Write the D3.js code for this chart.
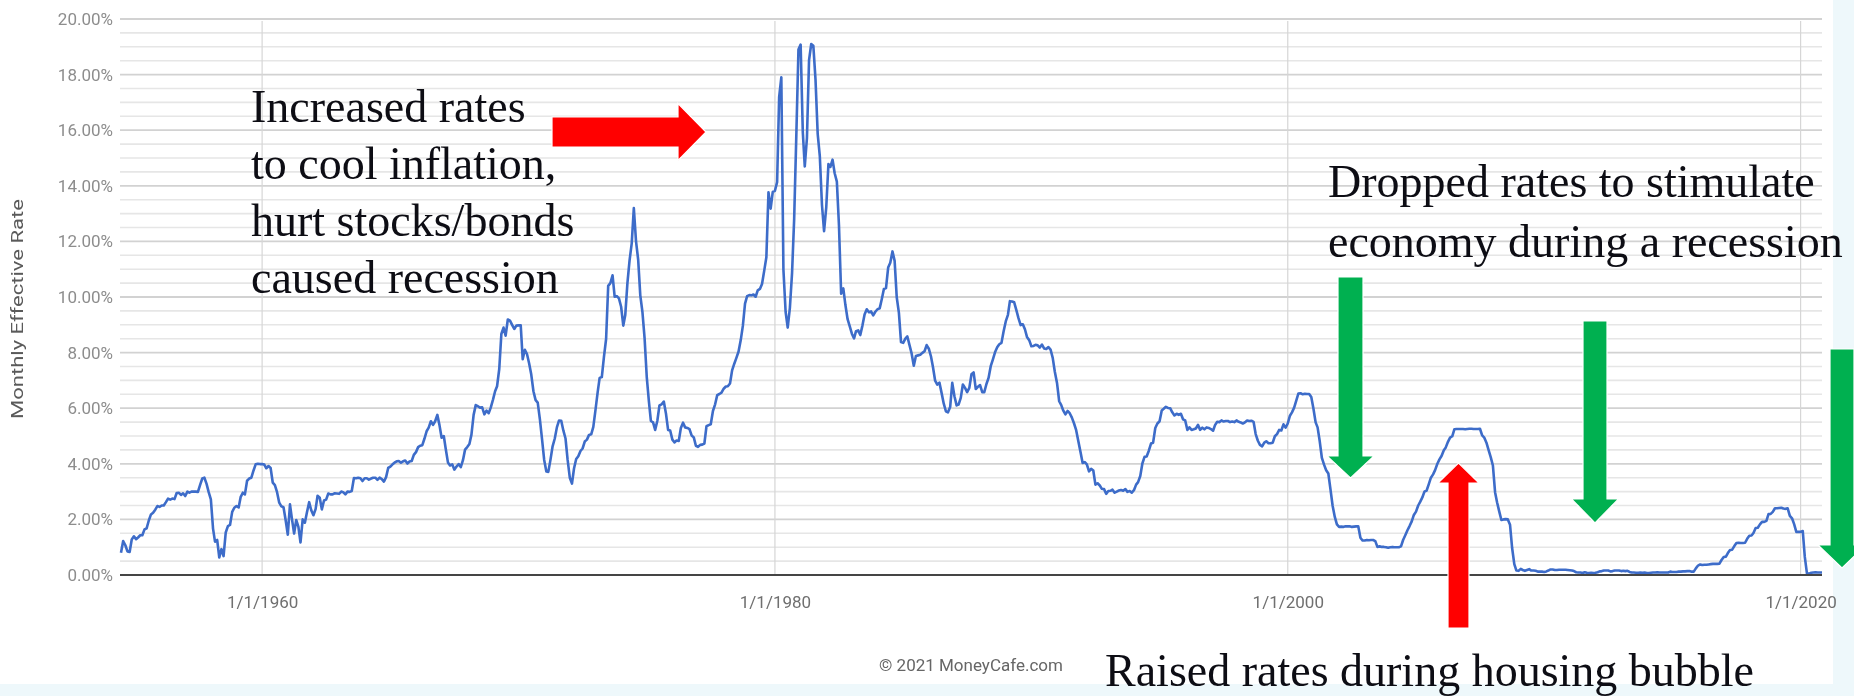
<!DOCTYPE html>
<html>
<head>
<meta charset="utf-8">
<script src="https://cdn.jsdelivr.net/npm/d3@7"></script>
<style>
  html, body { margin: 0; padding: 0; background: #ffffff; }
  svg { display: block; }
</style>
</head>
<body>
<svg id="chart" width="1854" height="696"></svg>
<script>
// Effective federal funds rate, monthly average in percent, July 1954 – November 2020
const seriesStart = new Date(1954, 6, 1);

const rates1950s = [
  0.80, 1.22, 1.07, 0.85, 0.83, 1.28,
  1.39, 1.29, 1.35, 1.43, 1.43, 1.64, 1.68, 1.96, 2.18, 2.24, 2.35, 2.48,
  2.45, 2.50, 2.50, 2.62, 2.75, 2.71, 2.75, 2.73, 2.95, 2.96, 2.88, 2.94,
  2.84, 3.00, 2.96, 3.00, 3.00, 3.00, 2.99, 3.24, 3.47, 3.50, 3.28, 2.98,
  2.72, 1.67, 1.20, 1.26, 0.63, 0.93, 0.68, 1.53, 1.76, 1.80, 2.27, 2.42,
  2.48, 2.43, 2.80, 2.96, 2.90, 3.39, 3.47, 3.50, 3.76, 3.98, 4.00, 3.99
];
const rates1960s = [
  3.99, 3.97, 3.84, 3.92, 3.85, 3.32, 3.23, 2.98, 2.60, 2.47, 2.44, 1.98,
  1.45, 2.54, 2.02, 1.49, 1.98, 1.73, 1.17, 2.00, 1.88, 2.26, 2.62, 2.33,
  2.15, 2.37, 2.85, 2.78, 2.36, 2.68, 2.71, 2.93, 2.90, 2.90, 2.94, 2.93,
  2.92, 3.00, 2.98, 2.90, 3.00, 2.99, 3.02, 3.49, 3.48, 3.50, 3.48, 3.38,
  3.48, 3.48, 3.43, 3.47, 3.50, 3.50, 3.42, 3.50, 3.45, 3.36, 3.52, 3.85,
  3.90, 3.98, 4.04, 4.09, 4.10, 4.04, 4.09, 4.12, 4.01, 4.08, 4.10, 4.32,
  4.42, 4.60, 4.65, 4.67, 4.90, 5.17, 5.30, 5.53, 5.40, 5.53, 5.76, 5.40,
  4.94, 5.00, 4.53, 4.05, 3.94, 3.98, 3.79, 3.90, 3.99, 3.88, 4.13, 4.51,
  4.60, 4.71, 5.05, 5.76, 6.11, 6.07, 6.02, 6.03, 5.78, 5.91, 5.82, 6.02,
  6.30, 6.61, 6.79, 7.41, 8.67, 8.90, 8.61, 9.19, 9.15, 9.00, 8.85, 8.97
];
const rates1970s = [
  8.98, 8.98, 7.76, 8.10, 7.95, 7.61, 7.21, 6.61, 6.29, 6.20, 5.60, 4.90,
  4.14, 3.72, 3.71, 4.15, 4.63, 4.91, 5.31, 5.56, 5.55, 5.20, 4.91, 4.14,
  3.50, 3.29, 3.83, 4.17, 4.27, 4.46, 4.55, 4.80, 4.87, 5.04, 5.06, 5.33,
  5.94, 6.58, 7.09, 7.12, 7.84, 8.49, 10.40, 10.50, 10.78, 10.01, 10.03, 9.95,
  9.65, 8.97, 9.35, 10.51, 11.31, 11.93, 13.20, 12.01, 11.34, 10.06, 9.45, 8.53,
  7.13, 6.24, 5.54, 5.49, 5.22, 5.55, 6.10, 6.14, 6.24, 5.82, 5.22, 5.20,
  4.87, 4.77, 4.84, 4.82, 5.29, 5.48, 5.31, 5.29, 5.25, 5.02, 4.95, 4.65,
  4.61, 4.68, 4.69, 4.73, 5.35, 5.39, 5.42, 5.90, 6.14, 6.47, 6.51, 6.56,
  6.70, 6.78, 6.79, 6.89, 7.36, 7.60, 7.81, 8.04, 8.45, 8.96, 9.76, 10.03,
  10.07, 10.06, 10.09, 10.01, 10.24, 10.29, 10.47, 10.94, 11.43, 13.77, 13.18, 13.78
];
const rates1980s = [
  13.82, 14.13, 17.19, 17.90, 10.98, 9.47, 8.90, 9.61, 10.87, 12.81, 15.85, 18.90,
  19.08, 15.93, 14.70, 15.72, 18.52, 19.10, 19.04, 17.82, 15.87, 15.08, 13.31, 12.37,
  13.22, 14.78, 14.68, 14.94, 14.45, 14.15, 12.59, 10.12, 10.31, 9.71, 9.20, 8.95,
  8.68, 8.51, 8.77, 8.80, 8.63, 8.98, 9.37, 9.56, 9.45, 9.48, 9.34, 9.47,
  9.56, 9.59, 9.91, 10.29, 10.32, 11.06, 11.23, 11.64, 11.30, 9.99, 9.43, 8.38,
  8.35, 8.50, 8.58, 8.27, 7.97, 7.53, 7.88, 7.90, 7.92, 7.99, 8.05, 8.27,
  8.14, 7.86, 7.48, 6.99, 6.85, 6.92, 6.56, 6.17, 5.89, 5.85, 6.04, 6.91,
  6.43, 6.10, 6.13, 6.37, 6.85, 6.73, 6.58, 6.73, 7.22, 7.29, 6.69, 6.77,
  6.83, 6.58, 6.58, 6.87, 7.09, 7.51, 7.75, 8.01, 8.19, 8.30, 8.35, 8.76,
  9.12, 9.36, 9.85, 9.84, 9.81, 9.53, 9.24, 8.99, 9.02, 8.84, 8.55, 8.45
];
const rates1990s = [
  8.23, 8.24, 8.28, 8.26, 8.18, 8.29, 8.15, 8.13, 8.20, 8.11, 7.81, 7.31,
  6.91, 6.25, 6.12, 5.91, 5.78, 5.90, 5.82, 5.66, 5.45, 5.21, 4.81, 4.43,
  4.03, 4.06, 3.98, 3.73, 3.82, 3.76, 3.25, 3.30, 3.22, 3.10, 3.09, 2.92,
  3.02, 3.03, 3.07, 2.96, 3.00, 3.04, 3.06, 3.03, 3.09, 2.99, 3.02, 2.96,
  3.05, 3.25, 3.34, 3.56, 4.01, 4.25, 4.26, 4.47, 4.73, 4.76, 5.29, 5.45,
  5.53, 5.92, 5.98, 6.05, 6.01, 6.00, 5.85, 5.74, 5.80, 5.76, 5.80, 5.60,
  5.56, 5.22, 5.31, 5.22, 5.24, 5.27, 5.40, 5.22, 5.30, 5.24, 5.31, 5.29,
  5.25, 5.19, 5.39, 5.51, 5.50, 5.56, 5.52, 5.54, 5.54, 5.50, 5.52, 5.50,
  5.56, 5.51, 5.49, 5.45, 5.49, 5.56, 5.54, 5.55, 5.51, 5.07, 4.83, 4.68,
  4.63, 4.76, 4.81, 4.74, 4.74, 4.76, 4.99, 5.07, 5.22, 5.20, 5.42, 5.30
];
const rates2000s = [
  5.45, 5.73, 5.85, 6.02, 6.27, 6.53, 6.54, 6.50, 6.52, 6.51, 6.51, 6.40,
  5.98, 5.49, 5.31, 4.80, 4.21, 3.97, 3.77, 3.65, 3.07, 2.49, 2.09, 1.82,
  1.73, 1.74, 1.73, 1.75, 1.75, 1.75, 1.73, 1.74, 1.75, 1.75, 1.34, 1.24,
  1.24, 1.26, 1.25, 1.26, 1.26, 1.22, 1.01, 1.03, 1.01, 1.01, 1.00, 0.98,
  1.00, 1.01, 1.00, 1.00, 1.00, 1.03, 1.26, 1.43, 1.61, 1.76, 1.93, 2.16,
  2.28, 2.50, 2.63, 2.79, 3.00, 3.04, 3.26, 3.50, 3.62, 3.78, 4.00, 4.16,
  4.29, 4.49, 4.59, 4.79, 4.94, 4.99, 5.24, 5.25, 5.25, 5.25, 5.25, 5.24,
  5.25, 5.26, 5.26, 5.25, 5.25, 5.25, 5.26, 5.02, 4.94, 4.76, 4.49, 4.24,
  3.94, 2.98, 2.61, 2.28, 1.98, 2.00, 2.01, 2.00, 1.81, 0.97, 0.39, 0.16,
  0.15, 0.22, 0.18, 0.15, 0.18, 0.21, 0.16, 0.16, 0.15, 0.12, 0.12, 0.12
];
const rates2010s = [
  0.11, 0.13, 0.16, 0.20, 0.20, 0.18, 0.18, 0.19, 0.19, 0.19, 0.19, 0.18,
  0.17, 0.16, 0.14, 0.10, 0.09, 0.09, 0.07, 0.10, 0.08, 0.07, 0.08, 0.07,
  0.08, 0.10, 0.13, 0.14, 0.16, 0.16, 0.16, 0.13, 0.14, 0.16, 0.16, 0.16,
  0.14, 0.15, 0.14, 0.15, 0.11, 0.09, 0.09, 0.08, 0.08, 0.09, 0.08, 0.09,
  0.07, 0.07, 0.08, 0.09, 0.09, 0.10, 0.09, 0.09, 0.09, 0.09, 0.09, 0.12,
  0.11, 0.11, 0.11, 0.12, 0.12, 0.13, 0.13, 0.14, 0.14, 0.12, 0.12, 0.24,
  0.34, 0.38, 0.36, 0.37, 0.37, 0.38, 0.39, 0.40, 0.40, 0.40, 0.41, 0.54,
  0.65, 0.66, 0.79, 0.90, 0.91, 1.04, 1.15, 1.16, 1.15, 1.15, 1.16, 1.30,
  1.41, 1.42, 1.51, 1.69, 1.70, 1.82, 1.91, 1.91, 1.95, 2.19, 2.20, 2.27,
  2.40, 2.40, 2.41, 2.42, 2.39, 2.38, 2.40, 2.13, 2.04, 1.83, 1.55, 1.55
];
const rates2020s = [1.55, 1.58, 0.65, 0.05, 0.05, 0.08, 0.09, 0.10, 0.09, 0.09, 0.09];

const yTickValues = [0, 2, 4, 6, 8, 10, 12, 14, 16, 18, 20];
const yMinorStep = 0.5;
const xTickYears = [1960, 1980, 2000, 2020];

const yAxisTitle = "Monthly Effective Rate";
const sourceNote = "\u00A9 2021 MoneyCafe.com";

// Slide annotations: text blocks and arrows placed over the chart
const noteBlocks = [
  { x: 251, y: 122, lineGap: 57, lines: ["Increased rates", "to cool inflation,", "hurt stocks/bonds", "caused recession"] },
  { x: 1328, y: 197, lineGap: 60, lines: ["Dropped rates to stimulate", "economy during a recession"] },
  { x: 1105, y: 686, lineGap: 0, lines: ["Raised rates during housing bubble"] }
];
// arrow: tail point, tip point, shaft width, head width, head length
const noteArrows = [
  { color: "#ff0000", tail: [552, 132], tip: [706, 132], shaft: 30, head: 57, headLen: 28 },
  { color: "#00b050", tail: [1350.5, 277], tip: [1350.5, 478], shaft: 25, head: 47, headLen: 22 },
  { color: "#ff0000", tail: [1458.5, 628], tip: [1458.5, 463], shaft: 21, head: 41, headLen: 20 },
  { color: "#00b050", tail: [1595, 321], tip: [1595, 523], shaft: 24, head: 47, headLen: 24 },
  { color: "#00b050", tail: [1842, 349], tip: [1842, 568], shaft: 24, head: 48, headLen: 23 }
];

const rates = [].concat(rates1950s, rates1960s, rates1970s, rates1980s,
                        rates1990s, rates2000s, rates2010s, rates2020s);
const data = rates.map((v, i) => ({ date: d3.timeMonth.offset(seriesStart, i), value: v }));

const W = 1854, H = 696;
const svg = d3.select("#chart");

const defs = svg.append("defs");
defs.append("filter").attr("id", "soft")
  .attr("x", "-2%").attr("y", "-2%").attr("width", "104%").attr("height", "104%")
  .append("feGaussianBlur").attr("stdDeviation", 0.6);

// slide background and the white chart panel
svg.append("rect").attr("width", W).attr("height", H).attr("fill", "#eef8fb");
svg.append("rect").attr("width", 1833).attr("height", 684).attr("fill", "#ffffff");

const x = d3.scaleTime()
  .domain([seriesStart, data[data.length - 1].date])
  .range([121, 1822]);
const y = d3.scaleLinear().domain([0, 20]).range([575, 19]);

const chart = svg.append("g").attr("filter", "url(#soft)");

// minor horizontal gridlines
const minorVals = d3.range(0, 20 + 1e-9, yMinorStep).filter(v => !yTickValues.includes(v));
chart.append("g").selectAll("line").data(minorVals).join("line")
  .attr("x1", x.range()[0] - 1).attr("x2", x.range()[1])
  .attr("y1", d => y(d)).attr("y2", d => y(d))
  .attr("stroke", "#e6e6e6").attr("stroke-width", 1.6);

// major horizontal gridlines
chart.append("g").selectAll("line").data(yTickValues.filter(v => v > 0)).join("line")
  .attr("x1", x.range()[0] - 1).attr("x2", x.range()[1])
  .attr("y1", d => y(d)).attr("y2", d => y(d))
  .attr("stroke", "#d2d2d2").attr("stroke-width", 1.8);

// vertical gridlines at the labelled dates
const xTickDates = xTickYears.map(yr => new Date(yr, 0, 1));
chart.append("g").selectAll("line").data(xTickDates).join("line")
  .attr("x1", d => x(d)).attr("x2", d => x(d))
  .attr("y1", y(20) + 2).attr("y2", y(0))
  .attr("stroke", "#d6d6d6").attr("stroke-width", 1.2);

// rate line
chart.append("path").datum(data)
  .attr("fill", "none")
  .attr("stroke", "#3d6cc9")
  .attr("stroke-width", 2.6)
  .attr("stroke-linejoin", "round")
  .attr("d", d3.line().x(d => x(d.date)).y(d => y(d.value)));

// baseline
chart.append("line")
  .attr("x1", x.range()[0] - 1).attr("x2", x.range()[1])
  .attr("y1", y(0)).attr("y2", y(0))
  .attr("stroke", "#444444").attr("stroke-width", 2.2);

// y axis labels
const yAxis = chart.append("g").attr("transform", `translate(${x.range()[0]},0)`)
  .call(d3.axisLeft(y).tickValues(yTickValues).tickSize(0).tickPadding(8)
    .tickFormat(d => d.toFixed(2) + "%"));
yAxis.select(".domain").remove();
yAxis.selectAll("text")
  .attr("font-family", "Roboto, sans-serif").attr("font-size", 17).attr("fill", "#8d8d8d");

// x axis labels
const xAxis = chart.append("g").attr("transform", `translate(0,${y(0)})`)
  .call(d3.axisBottom(x).tickValues(xTickDates).tickSize(0).tickPadding(21)
    .tickFormat(d3.timeFormat("%-m/%-d/%Y")));
xAxis.select(".domain").remove();
xAxis.selectAll("text")
  .attr("font-family", "Roboto, sans-serif").attr("font-size", 17).attr("fill", "#6f6f6f");

// y axis title
chart.append("text")
  .attr("transform", "translate(23,309) rotate(-90)")
  .attr("text-anchor", "middle")
  .attr("font-family", "Roboto, sans-serif").attr("font-size", 16)
  .attr("fill", "#5a5a5a")
  .attr("textLength", 220).attr("lengthAdjust", "spacingAndGlyphs")
  .text(yAxisTitle);

// source note
chart.append("text")
  .attr("x", 879).attr("y", 671)
  .attr("font-family", "Roboto, sans-serif").attr("font-size", 17)
  .attr("fill", "#666666")
  .text(sourceNote);

// arrows
function arrowPath(a) {
  const [tx, ty] = a.tail, [hx, hy] = a.tip;
  const len = Math.hypot(hx - tx, hy - ty);
  const ux = (hx - tx) / len, uy = (hy - ty) / len;   // along the arrow
  const px = -uy, py = ux;                           // across the arrow
  const bx = hx - ux * a.headLen, by = hy - uy * a.headLen;
  const s = a.shaft / 2, h = a.head / 2;
  const pts = [
    [tx + px * s, ty + py * s],
    [bx + px * s, by + py * s],
    [bx + px * h, by + py * h],
    [hx, hy],
    [bx - px * h, by - py * h],
    [bx - px * s, by - py * s],
    [tx - px * s, ty - py * s]
  ];
  return "M" + pts.map(p => p.join(",")).join("L") + "Z";
}
svg.append("g").selectAll("path").data(noteArrows).join("path")
  .attr("d", arrowPath)
  .attr("fill", d => d.color)
  .attr("stroke", "#ffffff").attr("stroke-width", 1.2);

// annotation text
const notes = svg.append("g")
  .attr("font-family", "'Liberation Serif', 'Times New Roman', serif")
  .attr("font-size", 46)
  .attr("fill", "#0d0d14");
noteBlocks.forEach(b => {
  notes.append("g").selectAll("text").data(b.lines).join("text")
    .attr("x", b.x)
    .attr("y", (d, i) => b.y + i * b.lineGap)
    .text(d => d);
});
</script>
</body>
</html>
